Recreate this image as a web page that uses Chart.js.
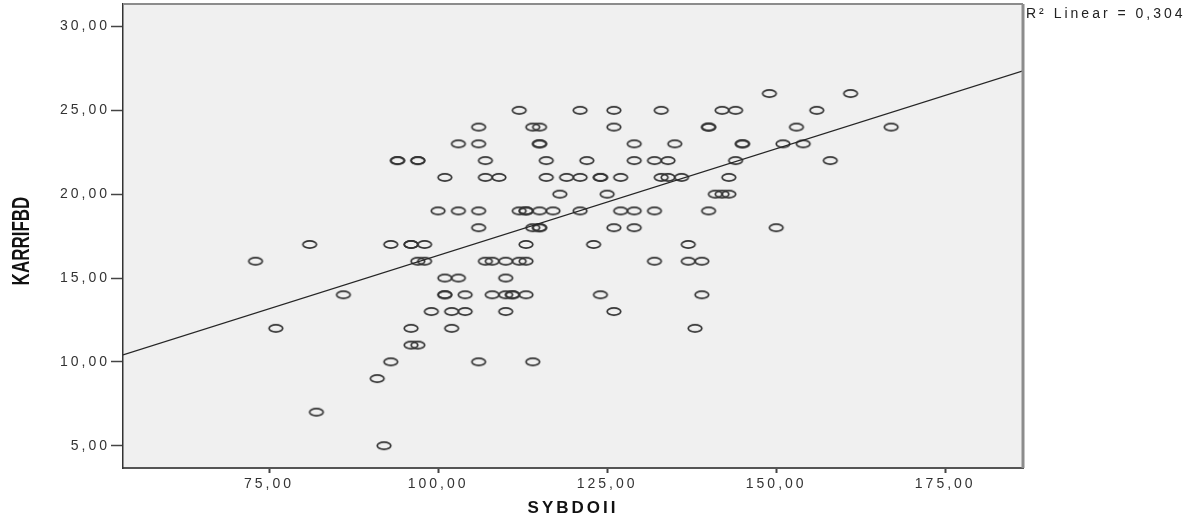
<!DOCTYPE html>
<html>
<head>
<meta charset="utf-8">
<script src="https://cdn.jsdelivr.net/npm/chart.js@4.4.1/dist/chart.umd.min.js"></script>
<style>
  html, body { margin: 0; padding: 0; background: #fff; }
  #wrap { width: 1199px; height: 519px; }
</style>
</head>
<body>
<div id="wrap"><canvas id="myChart" width="1199" height="519"></canvas></div>
<script>
// One pair per respondent, read row by row (KARRIFBD level) off the plot
const sybdoii = [
  149, 161,
  112, 121, 126, 133, 142, 144, 156,
  106, 114, 115, 126, 140, 140, 153, 167,
  103, 106, 115, 115, 129, 135, 145, 145, 151, 154,
  94, 94, 97, 97, 107, 116, 122, 129, 132, 134, 144, 158,
  101, 107, 109, 116, 119, 121, 124, 124, 127, 133, 134, 136, 143,
  118, 125, 141, 142, 143,
  100, 103, 106, 112, 113, 113, 115, 117, 121, 127, 129, 132, 140,
  106, 114, 115, 115, 126, 129, 150,
  81, 93, 96, 96, 98, 113, 123, 137,
  73, 97, 98, 107, 108, 110, 112, 113, 132, 137, 139,
  101, 103, 110,
  86, 101, 101, 104, 108, 110, 111, 111, 113, 124, 139,
  99, 102, 104, 110, 126,
  76, 96, 102, 138,
  96, 97,
  93, 106, 114,
  91,
  82,
  92
];
const karrifbd = [
  26, 26,
  25, 25, 25, 25, 25, 25, 25,
  24, 24, 24, 24, 24, 24, 24, 24,
  23, 23, 23, 23, 23, 23, 23, 23, 23, 23,
  22, 22, 22, 22, 22, 22, 22, 22, 22, 22, 22, 22,
  21, 21, 21, 21, 21, 21, 21, 21, 21, 21, 21, 21, 21,
  20, 20, 20, 20, 20,
  19, 19, 19, 19, 19, 19, 19, 19, 19, 19, 19, 19, 19,
  18, 18, 18, 18, 18, 18, 18,
  17, 17, 17, 17, 17, 17, 17, 17,
  16, 16, 16, 16, 16, 16, 16, 16, 16, 16, 16,
  15, 15, 15,
  14, 14, 14, 14, 14, 14, 14, 14, 14, 14, 14,
  13, 13, 13, 13, 13,
  12, 12, 12, 12,
  11, 11,
  10, 10, 10,
  9,
  7,
  5
];

const xTicks = [75, 100, 125, 150, 175];
const yTicks = [5, 10, 15, 20, 25, 30];
const xRange = [53.4, 186.5];
const yRange = [3.67, 31.34];

// fit line as drawn in the original
const fitX = [53.4, 186.5];
const fitY = [10.41, 27.35];
const rSquaredText = 'R\u00B2 Linear = 0,304';
const xTitle = 'SYBDOII';
const yTitle = 'KARRIFBD';

const fontFamily = '"Liberation Sans", Arial, sans-serif';
const fmt = v => Number(v).toFixed(2).replace('.', ',');

// open ellipse marker like the SPSS one
const marker = document.createElement('canvas');
marker.width = 18;
marker.height = 11;
const mctx = marker.getContext('2d');
mctx.lineWidth = 1.7;
mctx.strokeStyle = '#333';
mctx.beginPath();
mctx.ellipse(9, 5.5, 6.8, 3.6, 0, 0, Math.PI * 2);
mctx.stroke();

const spssFrame = {
  id: 'spssFrame',
  beforeDraw(chart) {
    const { ctx, chartArea: a } = chart;
    ctx.letterSpacing = '3px';
    ctx.save();
    ctx.fillStyle = '#f0f0f0';
    ctx.fillRect(a.left, a.top, a.right - a.left, a.bottom - a.top);
    ctx.restore();
  },
  afterDraw(chart) {
    const { ctx, chartArea: a } = chart;
    ctx.save();
    ctx.strokeStyle = '#8c8c8c';
    ctx.lineWidth = 3;
    ctx.beginPath();
    ctx.moveTo(a.right, a.top);
    ctx.lineTo(a.right, a.bottom);
    ctx.stroke();
    ctx.lineWidth = 2;
    ctx.beginPath();
    ctx.moveTo(a.left, a.top);
    ctx.lineTo(a.right, a.top);
    ctx.stroke();
    ctx.fillStyle = '#222';
    ctx.font = '14px ' + fontFamily;
    ctx.textBaseline = 'middle';
    ctx.textAlign = 'left';
    ctx.fillText(rSquaredText, a.right + 3, 14);
    ctx.restore();

    // vertical title, stretched across like the original picture
    ctx.save();
    ctx.letterSpacing = '0px';
    ctx.translate(22, (a.top + a.bottom) / 2 + 5);
    ctx.rotate(-Math.PI / 2);
    ctx.scale(1, 1.45);
    ctx.fillStyle = '#111';
    ctx.font = 'bold 17px ' + fontFamily;
    ctx.textAlign = 'center';
    ctx.textBaseline = 'middle';
    ctx.fillText(yTitle, 0, 0);
    ctx.restore();
  }
};

const config = {
  data: {
    datasets: [{
      type: 'scatter',
      label: yTitle,
      data: sybdoii.map((x, i) => ({ x: x, y: karrifbd[i] })),
      pointStyle: marker,
      pointRadius: 6,
      order: 2
    }, {
      type: 'line',
      label: 'Linear',
      data: fitX.map((x, i) => ({ x: x, y: fitY[i] })),
      borderColor: '#262626',
      borderWidth: 1.2,
      pointRadius: 0,
      fill: false,
      order: 1
    }]
  },
  options: {
    responsive: false,
    animation: false,
    devicePixelRatio: 1,
    layout: { autoPadding: false, padding: { top: 4, right: 176, left: 0, bottom: 0 } },
    plugins: { legend: { display: false }, tooltip: { enabled: false } },
    scales: {
      x: {
        type: 'linear',
        position: 'bottom',
        min: xRange[0],
        max: xRange[1],
        afterBuildTicks: s => { s.ticks = xTicks.map(value => ({ value })); },
        afterFit: s => { s.height = 51; s.paddingLeft = 0; s.paddingRight = 0; },
        grid: { drawOnChartArea: false, drawTicks: true, tickLength: 5, tickWidth: 2, color: '#444' },
        border: { display: true, color: '#555', width: 2 },
        ticks: {
          padding: 3, color: '#333', autoSkip: false, maxRotation: 0,
          font: { family: fontFamily, size: 14 },
          callback: fmt
        },
        title: {
          display: true, text: xTitle, color: '#111',
          font: { family: fontFamily, size: 17, weight: 'bold' },
          padding: { top: 0, bottom: 0 }
        }
      },
      y: {
        type: 'linear',
        position: 'left',
        min: yRange[0],
        max: yRange[1],
        afterBuildTicks: s => { s.ticks = yTicks.map(value => ({ value })); },
        afterFit: s => { s.width = 123; s.paddingTop = 0; s.paddingBottom = 0; },
        grid: { drawOnChartArea: false, drawTicks: true, tickLength: 12, tickWidth: 1.5, color: '#444' },
        border: { display: true, color: '#333', width: 1.5 },
        ticks: {
          padding: 1, color: '#333',
          font: { family: fontFamily, size: 14 },
          callback: fmt
        },
        title: { display: false }
      }
    }
  },
  plugins: [spssFrame]
};

const myChart = new Chart(document.getElementById('myChart'), config);
</script>
</body>
</html>
